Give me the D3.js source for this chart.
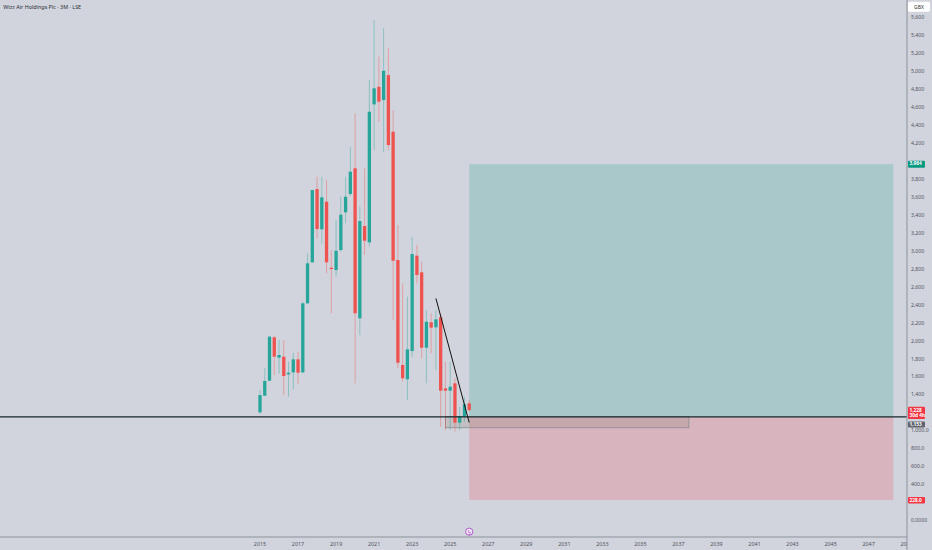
<!DOCTYPE html>
<html><head><meta charset="utf-8">
<script src="https://cdn.jsdelivr.net/npm/d3@7"></script>
<style>html,body{margin:0;padding:0;background:#d1d4dc;overflow:hidden}svg{display:block}</style>
</head><body><svg id="c" width="932" height="550"></svg>
<script>
// ---- data ----
const quarters = ["2015Q1","2015Q2","2015Q3","2015Q4","2016Q1","2016Q2","2016Q3","2016Q4","2017Q1","2017Q2","2017Q3","2017Q4","2018Q1","2018Q2","2018Q3","2018Q4","2019Q1","2019Q2","2019Q3","2019Q4","2020Q1","2020Q2","2020Q3","2020Q4","2021Q1","2021Q2","2021Q3","2021Q4","2022Q1","2022Q2","2022Q3","2022Q4","2023Q1","2023Q2","2023Q3","2023Q4","2024Q1","2024Q2","2024Q3","2024Q4","2025Q1","2025Q2","2025Q3","2025Q4","2026Q1"];
const opens  = [1203,1388,1555,2038,1811,1822,1626,1648,1793,1648,2416,2872,3687,3239,3546,2812,2786,3009,3428,3632,3918,2249,3276,3094,4629,4825,4677,4955,4325,2898,1730,1571,1885,2946,2761,1922,2205,2149,2260,1470,1444,1526,1088,1155,1304];
const highs  = [1452,1693,2050,2050,2008,2008,1767,1866,1877,2434,2972,3680,3824,3824,3788,3009,3343,3602,3824,4158,4529,3491,3918,4900,5567,5159,5475,5252,4566,3287,2638,2490,3157,3065,2879,2342,2305,2342,2305,1766,1766,1582,1266,1377,1340];
const lows   = [1185,1385,1548,1618,1637,1396,1377,1459,1518,1637,2405,2868,3139,3083,2750,2305,2712,2990,3306,3610,1526,2063,2953,3046,4121,4436,4102,4121,2230,1693,1544,1340,1822,2638,1804,1526,1860,1674,1043,1007,1007,988,1007,1099,1218];
const closes = [1396,1552,2045,1822,1841,1607,1644,1793,1644,2416,2861,3676,3242,3595,2872,2797,3001,3402,3602,3880,2305,3331,3112,4547,4808,4659,5003,4177,2890,1755,1582,1904,2964,2731,1922,2211,2145,2238,1444,1444,1488,1088,1162,1293,1228];

const yearTicks = [2015,2017,2019,2021,2023,2025,2027,2029,2031,2033,2035,2037,2039,2041,2043,2045,2047,2049];
const priceTicks = [5600,5400,5200,5000,4800,4600,4400,4200,3800,3600,3400,3200,3000,2800,2600,2400,2200,2000,1800,1600,1400,1000,800,600,400,0];
const priceTickLabels = ["5,600","5,400","5,200","5,000","4,800","4,600","4,400","4,200","3,800","3,600","3,400","3,200","3,000","2,800","2,600","2,400","2,200","2,000","1,800","1,600","1,400","1,000.0","800.0","600.0","400.0","0.0000"];

const title = "Wizz Air Holdings Plc · 3M · LSE";
const currency = "GBX";
const entryPrice = 1153, targetPrice = 3964, stopPrice = 228, lastPrice = 1228;
const lastPriceLabel = "1,228", countdown = "30d 4h", entryLabel = "1,153", targetLabel = "3,964", stopLabel = "228.0";
const positionStart = 2026.0, positionEnd = 2048.3;
const trendStart = [2024.25, 2470], trendEnd = [2026.0, 1090];
const rangeBox = {x0: 2024.75, x1: 2037.55, p0: 1155, p1: 1032};
const markerYear = 2026.0;

// ---- layout ----
const W = 932, H = 550, axisX = 907, axisY = 537;
const svg = d3.select("#c");
const font = "'Noto Sans', 'Open Sans', sans-serif";

const qToYear = q => +q.slice(0,4) + (+q.slice(5) - 1) * 0.25;
const x = d3.scaleLinear().domain([2015, 2047]).range([260, 868.6]);
const y = d3.scaleLinear().domain([0, 5600]).range([520.5, 17.1]);

svg.append("rect").attr("width", W).attr("height", H).attr("fill", "#d1d4dc");

svg.append("defs").append("clipPath").attr("id","plot")
  .append("rect").attr("x",0).attr("y",0).attr("width",axisX).attr("height",axisY);

const plot = svg.append("g").attr("clip-path","url(#plot)");

// position tool boxes
plot.append("rect")
  .attr("x", x(positionStart)).attr("width", x(positionEnd) - x(positionStart))
  .attr("y", y(targetPrice)).attr("height", y(entryPrice) - y(targetPrice))
  .attr("fill", "rgba(8,153,129,0.2)");
plot.append("rect")
  .attr("x", x(positionStart)).attr("width", x(positionEnd) - x(positionStart))
  .attr("y", y(entryPrice)).attr("height", y(stopPrice) - y(entryPrice))
  .attr("fill", "rgba(242,54,69,0.2)");

// range rectangle
plot.append("rect")
  .attr("x", x(rangeBox.x0)).attr("width", x(rangeBox.x1) - x(rangeBox.x0))
  .attr("y", y(rangeBox.p0)).attr("height", y(rangeBox.p1) - y(rangeBox.p0))
  .attr("fill", "rgba(140,125,110,0.22)").attr("stroke", "#8b8d93").attr("stroke-width", 0.8);

// candles
const candles = quarters.map((q,i) => ({t: qToYear(q), o: opens[i], h: highs[i], l: lows[i], c: closes[i]}));
const up = "#26a69a", dn = "#ef5350";
const bw = 3.3;
const cg = plot.append("g");
cg.selectAll("line.wick").data(candles).join("line")
  .attr("x1", d => x(d.t)).attr("x2", d => x(d.t))
  .attr("y1", d => y(d.h)).attr("y2", d => y(d.l))
  .attr("stroke", d => d.c >= d.o ? up : dn).attr("stroke-opacity", 0.45).attr("stroke-width", 0.9);
cg.selectAll("rect.body").data(candles).join("rect")
  .attr("x", d => x(d.t) - bw/2).attr("width", bw)
  .attr("y", d => y(Math.max(d.o, d.c)))
  .attr("height", d => Math.max(1, Math.abs(y(d.o) - y(d.c))))
  .attr("fill", d => d.c >= d.o ? up : dn);

// horizontal line at entry
plot.append("line").attr("x1", 0).attr("x2", axisX)
  .attr("y1", y(entryPrice)).attr("y2", y(entryPrice))
  .attr("stroke", "#16272a").attr("stroke-width", 1.3);

// trend line
plot.append("line")
  .attr("x1", x(trendStart[0])).attr("y1", y(trendStart[1]))
  .attr("x2", x(trendEnd[0])).attr("y2", y(trendEnd[1]))
  .attr("stroke", "#111").attr("stroke-width", 1);

// marker
const mk = svg.append("g").attr("transform", `translate(${x(markerYear)},531.7)`);
mk.append("circle").attr("r", 3.6).attr("fill", "#f3e8f7").attr("stroke", "#a23bc0").attr("stroke-width", 0.8);
mk.append("text").text("ϟ").attr("text-anchor","middle").attr("dy", "2").attr("font-size", 5.5)
  .attr("fill", "#a23bc0").attr("font-family", font);

// axes lines
svg.append("line").attr("x1", axisX).attr("x2", axisX).attr("y1", 0).attr("y2", H)
  .attr("stroke", "#8e9199").attr("stroke-width", 1);
svg.append("line").attr("x1", 0).attr("x2", axisX).attr("y1", axisY).attr("y2", axisY)
  .attr("stroke", "#8e9199").attr("stroke-width", 1);

// x axis labels
svg.append("defs").append("clipPath").attr("id","xclip")
  .append("rect").attr("x",0).attr("y",axisY).attr("width",axisX).attr("height",H-axisY);
svg.append("g").attr("clip-path","url(#xclip)")
  .selectAll("text").data(yearTicks).join("text")
  .attr("x", d => x(d)).attr("y", 545.5).attr("text-anchor", "middle")
  .attr("font-size", 5.4).attr("font-family", font).attr("fill", "#50535e")
  .text(d => d);

// y axis labels
svg.append("g").selectAll("text").data(priceTicks).join("text")
  .attr("x", 911).attr("y", d => y(d)).attr("dy", "0.35em")
  .attr("font-size", 5.2).attr("font-family", font).attr("fill", "#50535e")
  .text((d,i) => priceTickLabels[i]);

// tags
function tag(cy, h, fill, lines) {
  const g = svg.append("g");
  g.append("rect").attr("x", 908).attr("y", cy - h/2).attr("width", 17).attr("height", h)
    .attr("rx", 1).attr("fill", fill);
  lines.forEach((t, i) => {
    g.append("text").attr("x", 909.5).attr("y", cy - h/2 + 4.8 + i*5.4)
      .attr("font-size", 4.8).attr("font-weight", "bold").attr("font-family", font)
      .attr("fill", "#fff").text(t);
  });
}
tag(y(targetPrice), 7, "#089981", [targetLabel]);
tag(y(lastPrice) + 2.8, 12.4, "#f23645", [lastPriceLabel, countdown]);
tag(424.5, 5.8, "#60636d", [entryLabel]);
tag(y(stopPrice) + 0.3, 6.4, "#f23645", [stopLabel]);

// currency box
svg.append("rect").attr("x", 908).attr("y", 1.7).attr("width", 22).attr("height", 10)
  .attr("rx", 1.5).attr("fill", "#fff");
svg.append("text").attr("x", 919).attr("y", 8.7).attr("text-anchor", "middle")
  .attr("font-size", 5).attr("font-family", font).attr("fill", "#333").text(currency);

// title
svg.append("text").attr("x", 3.3).attr("y", 9).attr("font-size", 5.4)
  .attr("font-family", font).attr("fill", "#2a2e39").text(title);
</script>
</body></html>
